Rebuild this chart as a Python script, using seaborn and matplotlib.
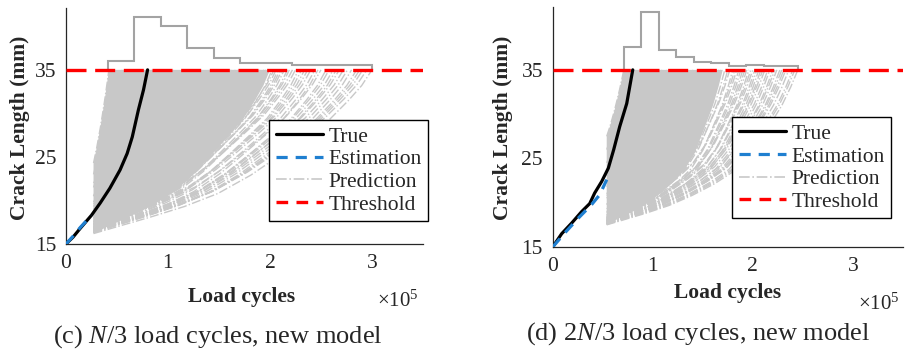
import numpy as np
import pandas as pd
import matplotlib
matplotlib.use('Agg')
import matplotlib.pyplot as plt
from matplotlib.lines import Line2D
import seaborn as sns

# cycles are in units of 1e5, crack length in mm
THRESHOLD = 35

# (c) N/3 load cycles
true_cyc_c = [0, 0.07, 0.14, 0.25, 0.335, 0.43, 0.53, 0.60, 0.65, 0.71, 0.76, 0.80]
true_len_c = [15, 15.8, 16.8, 18.3, 19.7, 21.4, 23.5, 25.4, 27.3, 30.4, 32.7, 35]
est_cyc_c = [0, 0.07, 0.14, 0.25]
est_len_c = [15, 15.9, 16.9, 18.3]
pred_start_c = 0.27
pred_end_c = [0.42, 0.47, 0.55, 0.62, 0.68, 0.72, 0.76, 0.80, 0.84, 0.88, 0.91, 0.95, 1.0,
              1.05, 1.1, 1.15, 1.18, 1.22, 1.3, 1.38, 1.44, 1.5, 1.52, 1.58, 1.62, 1.66,
              1.69, 1.72, 1.74, 1.76, 1.79, 1.81, 1.84, 1.86, 1.88, 1.9, 1.92, 1.94, 1.96,
              1.98, 2.02, 2.04, 2.06, 2.08, 2.1, 2.12, 2.14, 2.17, 2.19, 2.22, 2.25, 2.28,
              2.31, 2.34, 2.37, 2.4, 2.44, 2.47, 2.5, 2.55, 2.58, 2.62, 2.65, 2.68, 2.72,
              2.76, 2.8, 2.85, 2.88, 2.91, 2.95, 3.0]
pred_a0_c = [24.3, 23.0, 21.5, 20.5, 19.8, 19.3, 22.0, 18.6, 20.5, 18.0, 19.0, 17.6, 18.5,
             17.2, 19.6, 16.9, 18.0, 16.7, 17.5, 16.5, 18.2, 16.6, 16.8, 17.3, 17.0, 16.4,
             16.7, 17.8, 17.4, 16.9, 16.9, 17.2, 17.5, 16.5, 16.6, 17.9, 17.2, 17.6, 16.9,
             16.8, 16.4, 17.5, 17.3, 16.8, 17.0, 17.2, 16.7, 16.6, 16.9, 17.1, 17.3, 16.5,
             16.7, 16.8, 17.0, 16.9, 16.6, 16.4, 16.9, 16.3, 16.5, 16.6, 16.4, 16.7, 16.55,
             16.45, 16.3, 16.35, 16.45, 16.5, 16.6, 16.2]
core_end_c, core_a0_c = 2.0, 16.25   # lower edge of the solid band
hist_edges_c = [0.41, 0.67, 0.93, 1.19, 1.45, 1.71, 1.97, 2.22, 2.48, 2.74, 3.0]
hist_top_c = [36.0, 41.1, 40.0, 37.5, 36.35, 35.8, 35.75, 35.55, 35.5, 35.5]

# (d) 2N/3 load cycles
true_cyc_d = [0, 0.09, 0.19, 0.29, 0.37, 0.42, 0.49, 0.556, 0.61, 0.67, 0.74, 0.80]
true_len_d = [15, 16.5, 17.7, 19.0, 19.9, 21.1, 22.4, 23.9, 26.0, 28.6, 31.2, 35]
est_cyc_d = [0, 0.13, 0.26, 0.39, 0.47, 0.54]
est_len_d = [15, 16.7, 18.3, 19.8, 20.9, 22.6]
pred_start_d = 0.54
pred_end_d = [0.71, 0.74, 0.78, 0.82, 0.86, 0.9, 0.93, 0.96, 0.99, 1.02, 1.05, 1.09, 1.14,
              1.2, 1.28, 1.35, 1.4, 1.46, 1.51, 1.55, 1.58, 1.6, 1.63, 1.66, 1.68, 1.72,
              1.75, 1.77, 1.8, 1.82, 1.84, 1.86, 1.88, 1.9, 1.92, 1.94, 1.96, 1.98, 2.0,
              2.02, 2.04, 2.06, 2.08, 2.1, 2.12, 2.15, 2.17, 2.2, 2.22, 2.24, 2.27, 2.29,
              2.31, 2.33, 2.36, 2.4, 2.42, 2.45]
pred_a0_d = [27.5, 26.0, 24.5, 23.5, 22.5, 21.8, 23.0, 21.0, 22.2, 20.5, 19.8, 20.8, 19.3,
             18.9, 19.8, 18.6, 18.3, 19.0, 18.4, 18.1, 18.2, 18.8, 18.5, 18.3, 18.0, 17.9,
             18.0, 18.6, 17.7, 18.2, 18.4, 17.8, 17.9, 17.8, 18.1, 18.3, 17.6, 18.0, 18.2,
             17.7, 17.9, 17.7, 17.6, 18.1, 18.0, 17.9, 17.7, 17.6, 17.9, 17.6, 17.6, 17.8,
             17.7, 17.8, 17.6, 17.6, 17.55, 17.5]
core_end_d, core_a0_d = 1.7, 17.55
hist_edges_d = [0.713, 0.887, 1.062, 1.236, 1.41, 1.584, 1.759, 1.933, 2.107, 2.282, 2.456]
hist_top_d = [37.6, 41.5, 37.25, 36.4, 35.85, 35.75, 35.45, 35.55, 35.45, 35.45]

prof_t = [0, 0.205, 0.326, 0.447, 0.564, 0.670, 0.762, 0.846, 0.916, 0.963, 1]
prof_low_c = [0, 0.101, 0.165, 0.245, 0.356, 0.479, 0.590, 0.694, 0.814, 0.904, 1]
prof_low_d = [0, 0.075, 0.125, 0.19, 0.265, 0.35, 0.47, 0.63, 0.77, 0.89, 1]
prof_high = [0, 0.16, 0.27, 0.38, 0.5, 0.61, 0.71, 0.81, 0.89, 0.95, 1]

GRAY = '#c8c8c8'
BLUE = '#1f7fd0'


def pred_curves(x0, ends, a0s, prof_low, hi, lo):
    rows = []
    for k, (xe, a0) in enumerate(zip(ends, a0s)):
        w = (hi - a0) / (hi - lo)
        s = w * np.array(prof_low) + (1 - w) * np.array(prof_high)
        xs = x0 + np.array(prof_t) * (xe - x0)
        ys = a0 + s * (THRESHOLD - a0)
        for x, y in zip(xs, ys):
            rows.append((k, x, y))
    return pd.DataFrame(rows, columns=['curve', 'cycles', 'length'])


def draw_panel(ax, true_x, true_y, est_x, est_y, x0, ends, a0s, prof_low, core,
               edges, tops, legend_anchor):
    hi, lo = max(a0s), min(a0s)
    pred = pred_curves(x0, ends, a0s, prof_low, hi, lo)
    up = pred[pred.curve == 0]
    dn = pred_curves(x0, [core[0]], [core[1]], prof_low, hi, lo)
    ax.fill(np.r_[up.cycles, dn.cycles[::-1]], np.r_[up.length, dn.length[::-1]],
            color=GRAY, lw=0, zorder=1)
    sns.lineplot(data=pred, x='cycles', y='length', units='curve', estimator=None,
                 color=GRAY, lw=1.0, linestyle='-.', sort=False, ax=ax, zorder=1)
    ax.stairs(tops, edges, baseline=THRESHOLD, color='#a3a3a3', lw=1.5, zorder=2)
    sns.lineplot(x=true_x, y=true_y, color='black', lw=2.3, sort=False, ax=ax, zorder=3)
    sns.lineplot(x=est_x, y=est_y, color=BLUE, lw=2.3, sort=False, ax=ax, zorder=4,
                 linestyle=(0, (3.5, 2.5)))
    ax.axhline(THRESHOLD, color='red', lw=2.4, ls=(0, (6, 2.6)), zorder=5)

    ax.set_xlim(0, 3.5)
    ax.set_ylim(15, 42.1)
    ax.set_xticks([0, 1, 2, 3])
    ax.set_yticks([15, 25, 35])
    ax.set_xlabel('')
    ax.set_ylabel('')
    ax.tick_params(direction='in', length=4, width=0.8, labelsize=15.5, pad=7,
                   colors='#262626')
    for side in ['top', 'right']:
        ax.spines[side].set_visible(False)
    for side in ['left', 'bottom']:
        ax.spines[side].set_color('#262626')
        ax.spines[side].set_linewidth(0.9)

    handles = [Line2D([], [], color='black', lw=2.3),
               Line2D([], [], color=BLUE, lw=2.3, ls=(0, (3.5, 2.5))),
               Line2D([], [], color=GRAY, lw=1.2, ls='-.'),
               Line2D([], [], color='red', lw=2.4, ls=(0, (3.5, 2.5)))]
    leg = ax.legend(handles, ['True', 'Estimation', 'Prediction', 'Threshold'],
                    loc='upper right', bbox_to_anchor=legend_anchor, fontsize=15.5,
                    frameon=True, fancybox=False, edgecolor='black', framealpha=1,
                    handlelength=2.2, handletextpad=0.25, labelspacing=0.12,
                    borderpad=0.3, borderaxespad=0)
    leg.get_frame().set_linewidth(1.0)
    leg.set_zorder(10)


sns.set_style('white')
plt.rcParams['font.family'] = ['Liberation Serif', 'DejaVu Serif']
plt.rcParams['mathtext.fontset'] = 'custom'
plt.rcParams['mathtext.rm'] = 'Liberation Serif'
plt.rcParams['mathtext.it'] = 'Liberation Serif:italic'

fig = plt.figure(figsize=(9.05, 3.54), dpi=100)
ax_c = fig.add_axes([0.0729, 0.3107, 0.3945, 0.6667])
ax_d = fig.add_axes([0.6107, 0.3023, 0.3870, 0.6780])

draw_panel(ax_c, true_cyc_c, true_len_c, est_cyc_c, est_len_c, pred_start_c,
           pred_end_c, pred_a0_c, prof_low_c, (core_end_c, core_a0_c),
           hist_edges_c, hist_top_c, (1.014, 0.525))
draw_panel(ax_d, true_cyc_d, true_len_d, est_cyc_d, est_len_d, pred_start_d,
           pred_end_d, pred_a0_d, prof_low_d, (core_end_d, core_a0_d),
           hist_edges_d, hist_top_d, (0.966, 0.540))

for x in [0.022, 0.556]:
    fig.text(x, 0.64, 'Crack Length (mm)', rotation=90, ha='center', va='center',
             fontsize=15.5, fontweight='bold', color='#262626')
fig.text(0.267, 0.161, 'Load cycles', ha='center', va='center', fontsize=15.5,
         fontweight='bold', color='#262626')
fig.text(0.804, 0.172, 'Load cycles', ha='center', va='center', fontsize=15.5,
         fontweight='bold', color='#262626')
fig.text(0.417, 0.148, r'$\times\mathregular{10^5}$', ha='left', va='center',
         fontsize=15, color='#262626')
fig.text(0.948, 0.140, r'$\times\mathregular{10^5}$', ha='left', va='center',
         fontsize=15, color='#262626')
fig.text(0.241, 0.048, r'(c) $\it{N}$/3 load cycles, new model', ha='center',
         va='center', fontsize=19)
fig.text(0.771, 0.059, r'(d) 2$\it{N}$/3 load cycles, new model', ha='center',
         va='center', fontsize=19)

fig.savefig('out.png', dpi=100)
